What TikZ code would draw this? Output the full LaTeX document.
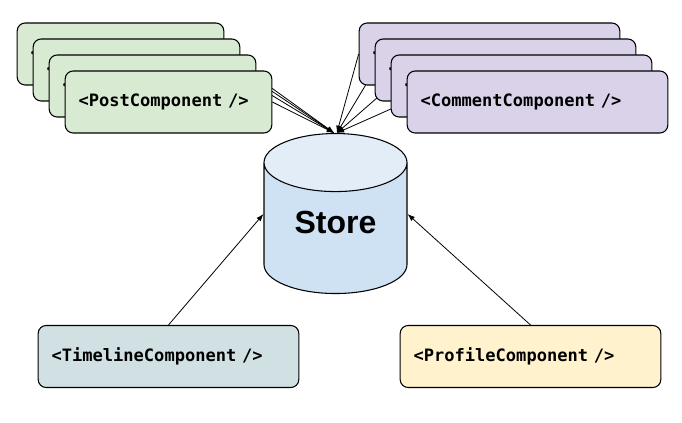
\documentclass[tikz,border=0pt]{standalone}
\usepackage{fontspec}
\newfontfamily\codefont{DejaVu Sans Mono}
\newfontfamily\storefont{Liberation Sans}
\usetikzlibrary{positioning,shapes.geometric,arrows.meta,backgrounds}
\definecolor{postfill}{HTML}{D9EAD3}
\definecolor{commentfill}{HTML}{D9D2E9}
\definecolor{timelinefill}{HTML}{D0E0E3}
\definecolor{profilefill}{HTML}{FFF2CC}
\definecolor{storebody}{HTML}{CFE2F3}
\definecolor{storetop}{HTML}{E2EDF8}
\tikzset{
  card/.style={draw, line width=0.8pt, rounded corners=6pt, minimum height=46.5pt,
    inner xsep=10pt, align=left, font=\codefont\bfseries\fontsize{12.8}{14}\selectfont},
  postcard/.style={card, fill=postfill, text width=135pt},
  commentcard/.style={card, fill=commentfill, text width=175.5pt},
  bottomcard/.style={card, text width=175.5pt},
  storefnt/.style={font=\storefont\bfseries\fontsize{24}{28}\selectfont},
  conn/.style={line width=0.6pt, -{Latex[length=5.5pt,width=4pt]}}
}
\begin{document}
\begin{tikzpicture}[x=0.75pt,y=-0.75pt]
  % canvas
  \useasboundingbox (0,0) rectangle (682,423);

  % the store in the middle
  \node[cylinder, shape border rotate=90, draw, line width=0.8pt, aspect=0.64,
    minimum width=107.25pt, minimum height=120pt, cylinder uses custom fill,
    cylinder body fill=storebody, cylinder end fill=storetop, anchor=north, storefnt,
    label={[storefnt, yshift=8.25pt]center:Store}]
    (store) at (335.5,133) {\phantom{Store}};

  % stacks of post and comment components
  \foreach \i in {1,...,4}
  \node[postcard] (post\i) at ({104.5+16*\i},{38+16*\i}) {<PostComponent />};
  \foreach \i in {1,...,4}
  \node[commentcard] (comment\i) at ({473.5+16*\i},{38+16*\i}) {<CommentComponent />};

  % the two single components below
  \node[bottomcard, fill=timelinefill] (timeline) at (168.5,356.5) {<TimelineComponent />};
  \node[bottomcard, fill=profilefill] (profile) at (530.5,356.5) {<ProfileComponent />};

  % every component points to the store
  \begin{pgfonlayer}{background}
    \foreach \i in {1,...,4} {
      \draw[conn] (post\i.east) -- ([xshift=-1]store.north);
      \draw[conn] (comment\i.west) -- ([xshift=1]store.north);
    }
  \end{pgfonlayer}
  \draw[conn] (timeline.north) -- ([yshift=14.5pt]store.west);
  \draw[conn] (profile.north) -- ([yshift=14.5pt]store.east);
\end{tikzpicture}
\end{document}
